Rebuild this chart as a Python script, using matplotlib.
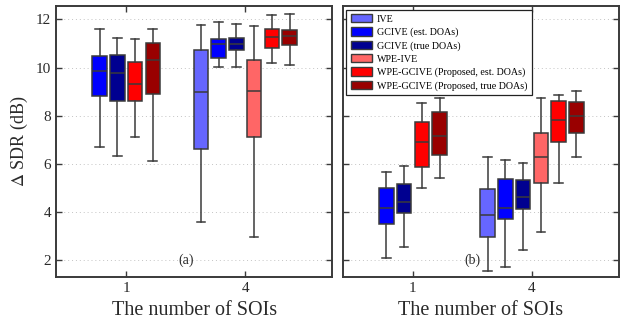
import matplotlib
matplotlib.use("Agg")
import matplotlib.pyplot as plt
from matplotlib.patches import Patch

plt.rcParams["font.family"] = ["Liberation Serif", "DejaVu Serif"]
plt.rcParams["mathtext.fontset"] = "stix"

groups = ["1", "4"]
methods = ["IVE", "GCIVE (est. DOAs)", "GCIVE (true DOAs)", "WPE-IVE",
           "WPE-GCIVE (Proposed, est. DOAs)", "WPE-GCIVE (Proposed, true DOAs)"]
colors = ["#6666ff", "#0000ff", "#000090", "#ff6666", "#ff0000", "#990000"]

# [whislo, q1, median, q3, whishi] for each method, one entry per group (None = not shown)
panel_a = {
    "IVE": [None, [3.59, 6.60, 8.99, 10.73, 11.75]],
    "GCIVE (est. DOAs)": [[6.70, 8.80, 9.85, 10.47, 11.61], [10.01, 10.41, 10.98, 11.20, 11.88]],
    "GCIVE (true DOAs)": [[6.34, 8.60, 9.78, 10.50, 11.24], [10.01, 10.72, 10.99, 11.24, 11.82]],
    "WPE-IVE": [None, [2.97, 7.11, 9.04, 10.31, 11.72]],
    "WPE-GCIVE (Proposed, est. DOAs)": [[7.11, 8.63, 9.31, 10.23, 11.18], [10.19, 10.83, 11.28, 11.61, 12.19]],
    "WPE-GCIVE (Proposed, true DOAs)": [[6.10, 8.92, 10.31, 11.02, 11.61], [10.12, 10.94, 11.32, 11.54, 12.21]],
}
panel_b = {
    "IVE": [None, [1.56, 2.97, 3.89, 4.97, 6.27]],
    "GCIVE (est. DOAs)": [[2.11, 3.49, 4.15, 5.00, 5.66], [1.71, 3.71, 4.17, 5.36, 6.17]],
    "GCIVE (true DOAs)": [[2.56, 3.95, 4.40, 5.18, 5.92], [2.44, 4.11, 4.64, 5.34, 6.05]],
    "WPE-IVE": [None, [3.16, 5.19, 6.29, 7.29, 8.74]],
    "WPE-GCIVE (Proposed, est. DOAs)": [[4.98, 5.85, 6.89, 7.72, 8.53], [5.22, 6.89, 7.81, 8.61, 8.86]],
    "WPE-GCIVE (Proposed, true DOAs)": [[5.41, 6.38, 7.14, 8.17, 8.74], [6.27, 7.30, 7.98, 8.55, 9.04]],
}

edge = "#3a3a3a"
step = 0.149
width = 0.122

fig = plt.figure(figsize=(6.22, 3.2), dpi=100)
ax_a = fig.add_axes([0.090, 0.134, 0.444, 0.847])
ax_b = fig.add_axes([0.551, 0.134, 0.444, 0.847])


def draw_panel(ax, data, tag):
    for g in range(len(groups)):
        present = [m for m in methods if data[m][g] is not None]
        n = len(present)
        for k, m in enumerate(present):
            lo, q1, med, q3, hi = data[m][g]
            stats = [dict(whislo=lo, q1=q1, med=med, q3=q3, whishi=hi, fliers=[])]
            pos = g + (k - (n - 1) / 2) * step
            c = colors[methods.index(m)]
            ax.bxp(stats, positions=[pos], widths=width, patch_artist=True,
                   showfliers=False, manage_ticks=False,
                   boxprops=dict(facecolor=c, edgecolor=edge, linewidth=1.1),
                   medianprops=dict(color=edge, linewidth=1.1),
                   whiskerprops=dict(color=edge, linewidth=1.1),
                   capprops=dict(color=edge, linewidth=1.1),
                   capwidths=width * 0.6)
    ax.set_xlim(-0.59, 1.73)
    ax.set_ylim(1.3, 12.55)
    ax.set_xticks(range(len(groups)))
    ax.set_xticklabels(groups)
    ax.set_yticks([2, 4, 6, 8, 10, 12])
    ax.yaxis.grid(True, linestyle=(0, (1, 3)), color="#c4c4c4", linewidth=0.7)
    ax.set_axisbelow(True)
    ax.tick_params(direction="in", top=True, right=True, length=4, width=1.0,
                   color=edge, labelsize=11, labelcolor="#2a2a2a")
    for s in ax.spines.values():
        s.set_color(edge)
        s.set_linewidth(1.4)
    ax.set_xlabel("The number of SOIs", fontsize=14.5, color="#2a2a2a", labelpad=4)
    ax.text(0.5, 2.0, tag, ha="center", va="center", fontsize=10, color="#2a2a2a")


draw_panel(ax_a, panel_a, "(a)")
draw_panel(ax_b, panel_b, "(b)")
ax_b.set_yticklabels([])
ax_a.set_ylabel(r"$\Delta$ SDR (dB)", fontsize=13, color="#2a2a2a", labelpad=4)

handles = [Patch(facecolor=c, edgecolor=edge, linewidth=1.0) for c in colors]
leg = ax_b.legend(handles, methods, loc="upper left", fontsize=7.2, frameon=True,
                  fancybox=False, framealpha=1, edgecolor="#222222",
                  handlelength=2.1, handleheight=0.9, labelspacing=0.36,
                  borderpad=0.45, handletextpad=0.5, borderaxespad=0.35)
leg.get_frame().set_linewidth(0.9)

fig.savefig("out.png", dpi=100)
